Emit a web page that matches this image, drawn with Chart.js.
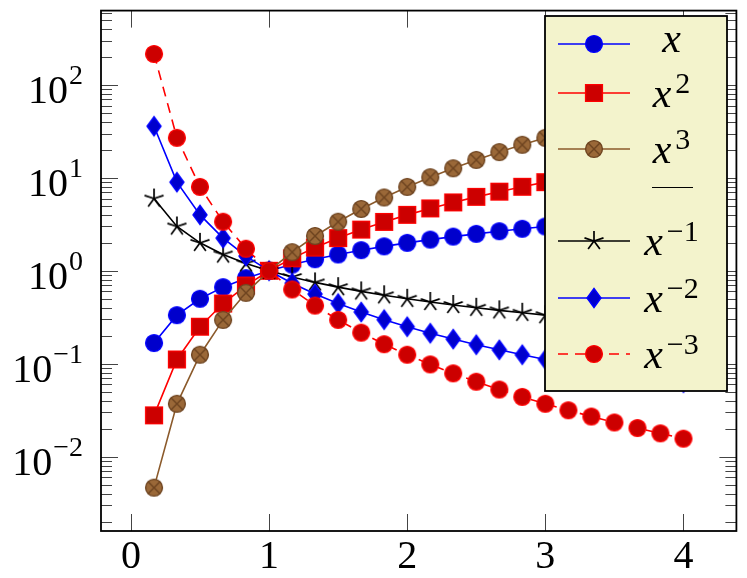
<!DOCTYPE html>
<html><head><meta charset="utf-8">
<script src="https://cdn.jsdelivr.net/npm/chart.js@4/dist/chart.umd.min.js"></script>
<style>html,body{margin:0;padding:0;background:#fff;}canvas{display:block;}</style>
</head><body>
<canvas id="c" width="747" height="578"></canvas>
<script>
// ---- data ----
const xValues = [0.167,0.333,0.5,0.667,0.833,1,1.167,1.333,1.5,1.667,1.833,2,2.167,2.333,2.5,2.667,2.833,3,3.167,3.333,3.5,3.667,3.833,4];
const seriesX  = [0.167,0.333,0.5,0.667,0.833,1,1.167,1.333,1.5,1.667,1.833,2,2.167,2.333,2.5,2.667,2.833,3,3.167,3.333,3.5,3.667,3.833,4];
const seriesX2 = [0.0278,0.111,0.25,0.444,0.694,1,1.361,1.778,2.25,2.778,3.361,4,4.694,5.444,6.25,7.111,8.028,9,10.03,11.11,12.25,13.44,14.69,16];
const seriesX3 = [0.00463,0.037,0.125,0.296,0.579,1,1.588,2.37,3.375,4.63,6.162,8,10.17,12.7,15.63,18.96,22.74,27,31.76,37.04,42.88,49.3,56.32,64];
const seriesXm1 = [6,3,2,1.5,1.2,1,0.857,0.75,0.667,0.6,0.545,0.5,0.462,0.429,0.4,0.375,0.353,0.333,0.316,0.3,0.286,0.273,0.261,0.25];
const seriesXm2 = [36,9,4,2.25,1.44,1,0.735,0.5625,0.444,0.36,0.298,0.25,0.213,0.184,0.16,0.141,0.125,0.111,0.0997,0.09,0.0816,0.0744,0.0681,0.0625];
const seriesXm3 = [216,27,8,3.375,1.728,1,0.63,0.422,0.296,0.216,0.162,0.125,0.0983,0.0787,0.064,0.0527,0.0439,0.037,0.0315,0.027,0.0233,0.0203,0.0178,0.0156];
const legendBase = ['x','x','x','','x','x','x'];
const legendExp  = ['','2','3','','\u22121','\u22122','\u22123'];
const xTickValues = [0,1,2,3,4];
const yTickExponents = [-2,-1,0,1,2];

// ---- marker drawing ----
const STY = {
  circleBlue:{shape:'circle',fill:'#0000cc',stroke:'#0000ff'},
  squareRed:{shape:'square',fill:'#cc0000',stroke:'#ff0000'},
  otimes:{shape:'otimes',fill:'#9a6838',stroke:'#6e4420'},
  star:{shape:'star',stroke:'#000000'},
  diamond:{shape:'diamond',fill:'#0000cc',stroke:'#0000ff'},
  circleRed:{shape:'circle',fill:'#cc0000',stroke:'#ff0000'}
};
function drawMark(g, key, x, y){
  const s = STY[key];
  g.save(); g.setLineDash([]); g.lineWidth = 1.4; g.strokeStyle = s.stroke; g.fillStyle = s.fill || 'transparent';
  const r = 8.4;
  if (s.shape==='circle' || s.shape==='otimes'){
    g.beginPath(); g.arc(x,y,r,0,Math.PI*2); g.fill(); g.stroke();
    if (s.shape==='otimes'){
      const d = r*0.7071;
      g.beginPath(); g.moveTo(x-d,y-d); g.lineTo(x+d,y+d); g.moveTo(x-d,y+d); g.lineTo(x+d,y-d); g.stroke();
    }
  } else if (s.shape==='square'){
    g.beginPath(); g.rect(x-r,y-r,2*r,2*r); g.fill(); g.stroke();
  } else if (s.shape==='diamond'){
    g.beginPath(); g.moveTo(x,y-9.5); g.lineTo(x+7,y); g.lineTo(x,y+9.5); g.lineTo(x-7,y); g.closePath(); g.fill(); g.stroke();
  } else if (s.shape==='star'){
    g.lineWidth = 1.7;
    g.beginPath();
    for (let k=0;k<5;k++){ const a=-Math.PI/2+k*2*Math.PI/5; g.moveTo(x,y); g.lineTo(x+10*Math.cos(a), y+10*Math.sin(a)); }
    g.stroke();
  }
  g.restore();
}
function markCanvas(key){
  const c=document.createElement('canvas'); c.width=26; c.height=26;
  drawMark(c.getContext('2d'), key, 13, 13); return c;
}

const defs = [
  {vals:seriesX,  color:'#0000ff', mark:'circleBlue', dash:[]},
  {vals:seriesX2, color:'#ff0000', mark:'squareRed', dash:[]},
  {vals:seriesX3, color:'#8b5a2b', mark:'otimes', dash:[]},
  {vals:seriesXm1,color:'#000000', mark:'star', dash:[]},
  {vals:seriesXm2,color:'#0000ff', mark:'diamond', dash:[]},
  {vals:seriesXm3,color:'#ff0000', mark:'circleRed', dash:[10,7]}
];
const datasets = defs.map((d,i)=>({
  data: xValues.map((x,j)=>({x:x, y:d.vals[j]})),
  borderColor: d.color, borderWidth: 1.6, borderDash: d.dash,
  pointStyle: markCanvas(d.mark), pointRadius: 9, pointHoverRadius: 9,
  fill:false, tension:0, order: 6-i
}));
const legendRows = [
  {ds:0,y:44},{ds:1,y:93},{ds:2,y:149},{ds:-1,y:187},{ds:3,y:241},{ds:4,y:298},{ds:5,y:354}
];

const SERIF = '"Liberation Serif","DejaVu Serif",serif';
const frameAndTicks = {
  id:'frameAndTicks',
  afterDatasetsDraw(chart){
    const {ctx, chartArea:a, scales:{x:xs,y:ys}} = chart;
    ctx.save();
    ctx.strokeStyle='#444'; ctx.lineWidth=1;
    ctx.beginPath();
    xTickValues.forEach(v=>{ const p=Math.round(xs.getPixelForValue(v))+0.5;
      ctx.moveTo(p,a.bottom); ctx.lineTo(p,a.bottom-17); ctx.moveTo(p,a.top); ctx.lineTo(p,a.top+17); });
    for (let e=-3;e<=2;e++){
      for (let m=1;m<=9;m++){
        const v=m*Math.pow(10,e); if (v<ys.min||v>ys.max) continue;
        const p=Math.round(ys.getPixelForValue(v))+0.5; const L = m===1?17:11;
        ctx.moveTo(a.left,p); ctx.lineTo(a.left+L,p); ctx.moveTo(a.right,p); ctx.lineTo(a.right-L,p);
      }
    }
    ctx.stroke();
    ctx.strokeStyle='#000'; ctx.lineWidth=1.8;
    ctx.strokeRect(a.left,a.top,a.right-a.left,a.bottom-a.top);
    // y tick labels 10^e
    ctx.fillStyle='#000'; ctx.textBaseline='alphabetic'; ctx.textAlign='left';
    yTickExponents.forEach(e=>{
      const p=ys.getPixelForValue(Math.pow(10,e));
      const base='10', ex = e<0 ? '\u2212'+(-e) : String(e);
      ctx.font='40px '+SERIF; const wb=ctx.measureText(base).width;
      ctx.font='28px '+SERIF; const we=ctx.measureText(ex).width;
      const left = 83 - we - wb - 1;
      ctx.font='40px '+SERIF; ctx.fillText(base,left,p+18);
      ctx.font='28px '+SERIF; ctx.fillText(ex,left+wb+1,p-1);
    });
    ctx.restore();
  },
  afterDraw(chart){
    const ctx=chart.ctx;
    ctx.save();
    const L={l:545,t:16,r:727,b:391};
    ctx.fillStyle='#f3f3cc'; ctx.fillRect(L.l,L.t,L.r-L.l,L.b-L.t);
    ctx.strokeStyle='#000'; ctx.lineWidth=1.8; ctx.strokeRect(L.l,L.t,L.r-L.l,L.b-L.t);
    legendRows.forEach((row,k)=>{
      const y=row.y;
      if (row.ds<0){
        ctx.strokeStyle='#000'; ctx.lineWidth=1.2; ctx.setLineDash([]);
        ctx.beginPath(); ctx.moveTo(652,y+0.5); ctx.lineTo(693,y+0.5); ctx.stroke(); return;
      }
      const d=defs[row.ds];
      ctx.strokeStyle=d.color; ctx.lineWidth=1.6; ctx.setLineDash(d.dash);
      ctx.beginPath(); ctx.moveTo(558,y); ctx.lineTo(630,y); ctx.stroke(); ctx.setLineDash([]);
      drawMark(ctx,d.mark,594,y);
      const base=legendBase[k], ex=legendExp[k];
      ctx.fillStyle='#000'; ctx.textAlign='left'; ctx.textBaseline='alphabetic';
      ctx.font='italic 42px '+SERIF; const wb=ctx.measureText(base).width;
      ctx.font='30px '+SERIF; const we=ex?ctx.measureText(ex).width+4:0;
      const left=671.5-(wb+we)/2;
      ctx.font='italic 42px '+SERIF; ctx.fillText(base,left,ex? y+14 : y+8);
      if (ex){ ctx.font='30px '+SERIF; ctx.fillText(ex,left+wb+4,y); }
    });
    ctx.restore();
  }
};

new Chart(document.getElementById('c'),{
  type:'line',
  data:{datasets},
  options:{
    responsive:false, devicePixelRatio:1, animation:false,
    layout:{padding:{left:0,top:4,right:6,bottom:0}},
    plugins:{legend:{display:false},tooltip:{enabled:false}},
    scales:{
      x:{type:'linear',min:-0.2167,max:4.3833,
        grid:{display:false}, border:{display:false},
        afterFit(s){ s.height=47; },
        ticks:{stepSize:1,includeBounds:false,autoSkip:false,maxRotation:0,padding:-6,color:'#000',
          font:{family:SERIF,size:40},callback:v=>String(v)}
      },
      y:{type:'logarithmic',min:Math.pow(10,-2.801),max:Math.pow(10,2.801),
        grid:{display:false}, border:{display:false},
        afterFit(s){ s.width=101; },
        ticks:{display:false}
      }
    }
  },
  plugins:[frameAndTicks]
});
</script>
</body></html>
